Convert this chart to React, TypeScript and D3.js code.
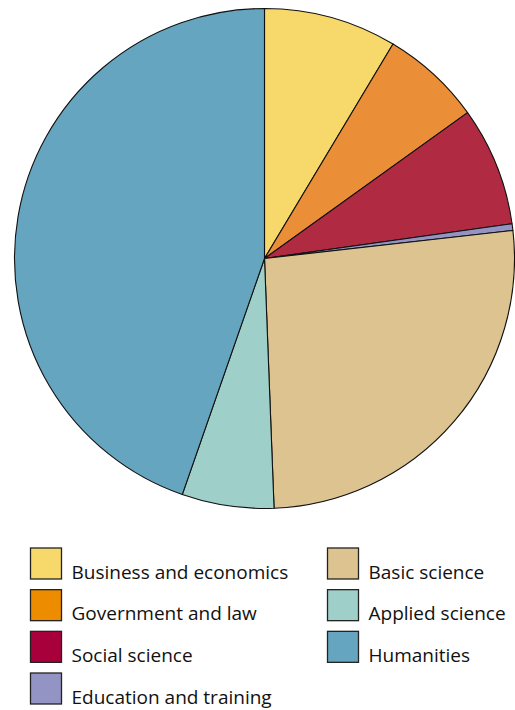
import React from "react";
import * as d3 from "d3";

const categories = [
  "Business and economics",
  "Government and law",
  "Social science",
  "Education and training",
  "Basic science",
  "Applied science",
  "Humanities",
];
const values = [8.6, 6.5, 7.7, 0.43, 26.2, 5.95, 44.7];
const pieColors = ["#F7D96B", "#EA8F37", "#B02A42", "#9394C4", "#DDC390", "#9ECFC8", "#66A5BF"];
const legendColors = ["#F7D96B", "#EE8C00", "#A8003A", "#9394C4", "#DDC390", "#9ECFC8", "#66A5BF"];

const W = 515;
const H = 710;
const cx = 264.5;
const cy = 258.5;
const R = 250;

export default function App() {
  const data = categories.map((c, i) => ({ c, v: values[i], i }));
  const pie = d3.pie<any>().value((d) => d.v).sort(null).startAngle(0).endAngle(2 * Math.PI);
  const arcs = pie(data);
  const arc = d3.arc<any>().innerRadius(0).outerRadius(R);

  const leftCol = [0, 1, 2, 3];
  const rightCol = [4, 5, 6];
  const rowY = d3.scaleLinear().domain([0, 3]).range([548, 673]);

  const legendItem = (i: number, row: number, x: number) => (
    <g key={i} transform={`translate(${x},${rowY(row)})`}>
      <rect x={0} y={0} width={31} height={31} fill={legendColors[i]} stroke="#222" strokeWidth={1.3} />
      <text x={41} y={30.5} fontSize={19} fontFamily="'Open Sans', sans-serif" fill="#111">
        {categories[i]}
      </text>
    </g>
  );

  return (
    <svg width={W} height={H} style={{ position: "absolute", left: 0, top: 0, background: "#fff" }}>
      <g transform={`translate(${cx},${cy})`}>
        {arcs.map((a, k) => (
          <path key={k} d={arc(a) as string} fill={pieColors[a.data.i]} stroke="#111" strokeWidth={1.1} strokeLinejoin="round" />
        ))}
      </g>
      {leftCol.map((i, r) => legendItem(i, r, 30.5))}
      {rightCol.map((i, r) => legendItem(i, r, 327.5))}
    </svg>
  );
}
